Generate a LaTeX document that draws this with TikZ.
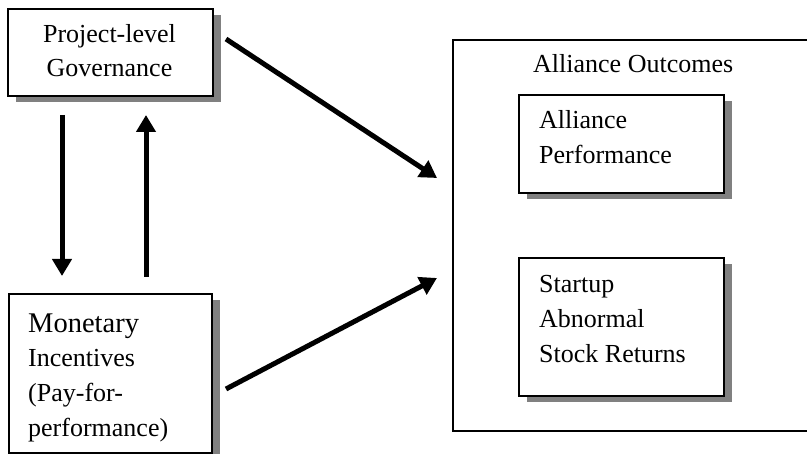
\documentclass[tikz,border=0pt]{standalone}
\usepackage{fontspec}
\setmainfont{Liberation Serif}
\usetikzlibrary{arrows.meta,shadows,calc}
\definecolor{shgray}{HTML}{808080}
\begin{document}
\begin{tikzpicture}[x=1pt,y=-1pt,
  box/.style={draw, line width=2pt, fill=white, inner sep=0pt, anchor=north west,
    general shadow={fill=shgray, shadow xshift=8pt, shadow yshift=-6pt}},
  frame/.style={draw, line width=1.6pt, inner sep=0pt, anchor=north west},
  txt/.style={font=\fontsize{26}{26}\selectfont, inner sep=0pt, anchor=base west},
  bigtxt/.style={font=\fontsize{28.5}{28.5}\selectfont, inner sep=0pt, anchor=base west},
  arr/.style={line width=5pt, -{Triangle[length=17pt,width=19pt]}}
]
\useasboundingbox (0,0) rectangle (807,454);
\fill[white] (0,0) rectangle (807,454);

% outer frame
\node[frame, minimum width=370pt, minimum height=391pt] (out) at (452,39) {};
\node[txt] (outlbl) at (533,73) {Alliance Outcomes};

% boxes
\node[box, minimum width=205pt, minimum height=87pt] (proj) at (7,8) {};
\node[box, minimum width=203pt, minimum height=159pt] (mon) at (8,293) {};
\node[box, minimum width=205pt, minimum height=98pt] (perf) at (518,94) {};
\node[box, minimum width=205pt, minimum height=138pt] (stock) at (518,257) {};

% texts
\node[txt, anchor=base] (p1) at (109.5,43) {Project-level};
\node[txt, anchor=base] (p2) at (109.5,77) {Governance};

\node[bigtxt] (m1) at (28,333) {Monetary};
\node[txt] (m2) at (28,367) {Incentives};
\node[txt] (m3) at (28,402) {(Pay-for-};
\node[txt] (m4) at (28,437) {performance)};

\node[txt] (f1) at (539,129) {Alliance};
\node[txt] (f2) at (539,164) {Performance};

\node[txt] (s1) at (539,293) {Startup};
\node[txt] (s2) at (539,328) {Abnormal};
\node[txt] (s3) at (539,363) {Stock Returns};

% arrows
\draw[arr] ($(proj.north east)+(12,31)$) -- ($(out.north west)+(-15,139)$);
\draw[arr] ($(mon.north east)+(13,96)$) -- ($(out.north west)+(-15,239)$);
\draw[arr] ($(proj.south west)+(55,18)$) -- ($(mon.north west)+(54,-17)$);
\draw[arr] ($(mon.north west)+(138,-16)$) -- ($(proj.south west)+(139,18)$);
\end{tikzpicture}
\end{document}
